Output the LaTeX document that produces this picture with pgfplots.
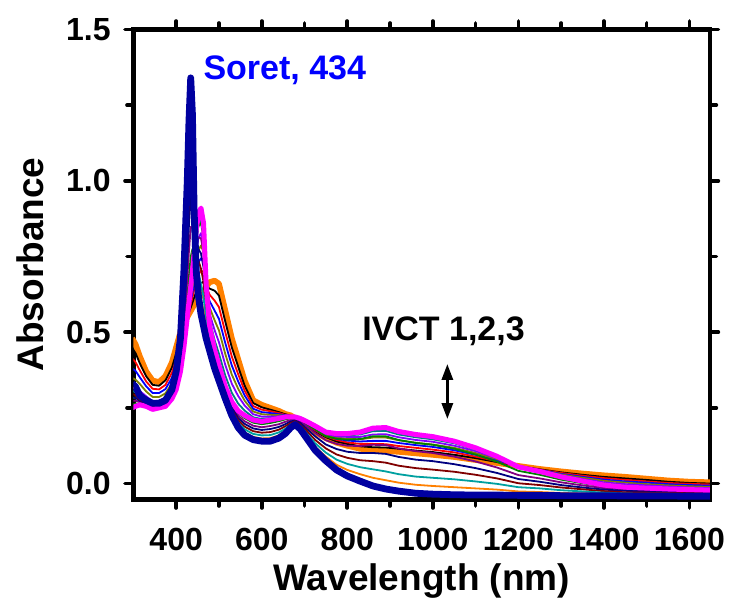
\documentclass[border=0pt]{standalone}
\usepackage{fontspec}
\setmainfont{Liberation Sans}
\usepackage{pgfplots}
\usepackage{pgfplotstable}
\pgfplotsset{compat=1.18}
\usetikzlibrary{arrows.meta}

\definecolor{cOrange}{RGB}{255,128,0}
\definecolor{cPink}{RGB}{255,0,255}
\definecolor{cNavy}{RGB}{0,0,160}
\definecolor{cOlive}{RGB}{128,128,0}
\definecolor{cViolet}{RGB}{128,0,255}
\definecolor{cCyan}{RGB}{0,128,128}
\definecolor{cGreen}{RGB}{0,128,0}
\definecolor{cPurple}{RGB}{128,0,128}
\definecolor{cDkBlue}{RGB}{0,0,128}
\definecolor{cWine}{RGB}{128,0,0}
\definecolor{cTeal}{RGB}{0,160,160}

% x = wavelength (nm); O = start (orange), a1..a6 = first set, P = pink,
% b1..b6 = second set, B = final (navy)
\pgfplotstableread{
x O a1 a2 a3 a4 a5 a6 P b1 b2 b3 b4 b5 b6 B
297 0.48 0.447 0.414 0.381 0.349 0.316 0.283 0.25 0.261 0.273 0.284 0.296 0.307 0.319 0.33
305 0.46 0.431 0.401 0.372 0.343 0.314 0.284 0.255 0.264 0.274 0.283 0.292 0.301 0.311 0.32
315 0.42 0.397 0.374 0.351 0.329 0.306 0.283 0.26 0.264 0.269 0.273 0.277 0.281 0.286 0.29
330 0.37 0.354 0.337 0.321 0.304 0.288 0.271 0.255 0.258 0.261 0.264 0.266 0.269 0.272 0.275
345 0.34 0.326 0.313 0.299 0.286 0.272 0.259 0.245 0.248 0.251 0.254 0.256 0.259 0.262 0.265
360 0.335 0.323 0.311 0.299 0.286 0.274 0.262 0.25 0.252 0.254 0.256 0.259 0.261 0.263 0.265
375 0.355 0.341 0.326 0.312 0.298 0.284 0.269 0.255 0.258 0.261 0.264 0.266 0.269 0.272 0.275
390 0.40 0.383 0.366 0.349 0.331 0.314 0.297 0.28 0.284 0.289 0.293 0.297 0.301 0.306 0.31
400 0.45 0.43 0.41 0.39 0.37 0.35 0.33 0.31 0.319 0.327 0.336 0.344 0.353 0.361 0.37
410 0.50 0.481 0.463 0.444 0.426 0.407 0.389 0.37 0.386 0.401 0.417 0.433 0.449 0.464 0.48
418 0.53 0.519 0.507 0.496 0.484 0.473 0.461 0.45 0.486 0.521 0.557 0.593 0.629 0.664 0.70
426 0.55 0.551 0.549 0.552 0.548 0.551 0.55 0.55 0.614 0.679 0.743 0.807 0.871 0.936 1.00
430 0.56 0.566 0.571 0.577 0.583 0.589 0.594 0.60 0.686 0.771 0.857 0.943 1.029 1.114 1.20
434 0.57 0.581 0.593 0.604 0.616 0.627 0.639 0.65 0.749 0.847 0.946 1.044 1.143 1.241 1.34
438 0.58 0.597 0.614 0.631 0.649 0.666 0.683 0.70 0.774 0.849 0.923 0.997 1.071 1.146 1.22
442 0.59 0.614 0.639 0.663 0.687 0.711 0.736 0.76 0.78 0.80 0.82 0.84 0.86 0.88 0.90
447 0.60 0.634 0.669 0.703 0.737 0.771 0.806 0.84 0.82 0.80 0.78 0.76 0.74 0.72 0.70
452 0.61 0.65 0.69 0.73 0.77 0.81 0.85 0.89 0.851 0.813 0.774 0.736 0.697 0.659 0.62
458 0.62 0.661 0.703 0.744 0.786 0.827 0.869 0.91 0.86 0.81 0.76 0.71 0.66 0.61 0.56
464 0.635 0.667 0.699 0.731 0.764 0.796 0.828 0.86 0.811 0.763 0.714 0.666 0.617 0.569 0.52
470 0.65 0.651 0.653 0.654 0.656 0.657 0.659 0.66 0.634 0.609 0.583 0.557 0.531 0.506 0.48
478 0.665 0.644 0.624 0.603 0.582 0.562 0.541 0.52 0.509 0.497 0.486 0.474 0.463 0.451 0.44
490 0.67 0.637 0.604 0.571 0.539 0.506 0.473 0.44 0.431 0.423 0.414 0.406 0.397 0.389 0.38
500 0.66 0.621 0.583 0.544 0.506 0.467 0.429 0.39 0.383 0.376 0.369 0.361 0.354 0.347 0.34
515 0.57 0.534 0.499 0.463 0.427 0.391 0.356 0.32 0.314 0.309 0.303 0.297 0.291 0.286 0.28
530 0.48 0.45 0.42 0.39 0.36 0.33 0.30 0.27 0.264 0.257 0.251 0.244 0.238 0.231 0.225
545 0.41 0.386 0.361 0.337 0.313 0.289 0.264 0.24 0.232 0.224 0.216 0.209 0.201 0.193 0.185
560 0.34 0.324 0.307 0.291 0.274 0.258 0.241 0.225 0.216 0.206 0.197 0.188 0.179 0.169 0.16
580 0.275 0.266 0.256 0.247 0.238 0.229 0.219 0.21 0.201 0.191 0.182 0.173 0.164 0.154 0.145
600 0.26 0.252 0.244 0.236 0.229 0.221 0.213 0.205 0.196 0.186 0.177 0.168 0.159 0.149 0.14
620 0.25 0.244 0.239 0.233 0.227 0.221 0.216 0.21 0.20 0.19 0.18 0.17 0.16 0.15 0.14
640 0.24 0.236 0.233 0.229 0.226 0.222 0.219 0.215 0.206 0.196 0.187 0.178 0.169 0.159 0.15
655 0.23 0.229 0.227 0.226 0.224 0.223 0.221 0.22 0.212 0.204 0.196 0.189 0.181 0.173 0.165
668 0.225 0.224 0.224 0.223 0.222 0.221 0.221 0.22 0.215 0.21 0.205 0.20 0.195 0.19 0.185
678 0.215 0.216 0.216 0.217 0.218 0.219 0.219 0.22 0.216 0.213 0.209 0.206 0.202 0.199 0.195
690 0.205 0.206 0.208 0.209 0.211 0.212 0.214 0.215 0.21 0.205 0.20 0.195 0.19 0.185 0.18
705 0.19 0.192 0.194 0.196 0.199 0.201 0.203 0.205 0.197 0.189 0.181 0.174 0.166 0.158 0.15
725 0.17 0.173 0.176 0.179 0.181 0.184 0.187 0.19 0.179 0.167 0.156 0.144 0.133 0.121 0.11
750 0.15 0.153 0.156 0.159 0.161 0.164 0.167 0.17 0.156 0.143 0.129 0.116 0.102 0.089 0.075
775 0.135 0.139 0.144 0.148 0.152 0.156 0.161 0.165 0.148 0.131 0.114 0.096 0.079 0.062 0.045
800 0.125 0.131 0.136 0.142 0.148 0.154 0.159 0.165 0.145 0.125 0.105 0.085 0.065 0.045 0.025
830 0.115 0.123 0.131 0.139 0.146 0.154 0.162 0.17 0.147 0.124 0.101 0.077 0.054 0.031 0.008
860 0.11 0.12 0.131 0.141 0.152 0.162 0.173 0.183 0.156 0.128 0.101 0.074 0.047 0.019 -0.008
890 0.108 0.119 0.13 0.141 0.152 0.163 0.174 0.185 0.156 0.127 0.098 0.069 0.04 0.011 -0.018
920 0.105 0.115 0.124 0.134 0.143 0.153 0.162 0.172 0.144 0.116 0.088 0.059 0.031 0.003 -0.025
960 0.10 0.109 0.118 0.127 0.135 0.144 0.153 0.162 0.134 0.107 0.079 0.051 0.023 -0.004 -0.032
1000 0.095 0.104 0.112 0.121 0.129 0.138 0.146 0.155 0.128 0.101 0.074 0.046 0.019 -0.008 -0.035
1050 0.088 0.095 0.103 0.11 0.118 0.125 0.133 0.14 0.115 0.089 0.064 0.039 0.014 -0.012 -0.037
1100 0.078 0.084 0.089 0.095 0.101 0.107 0.112 0.118 0.096 0.073 0.051 0.029 0.007 -0.016 -0.038
1150 0.068 0.071 0.074 0.077 0.081 0.084 0.087 0.09 0.072 0.053 0.035 0.017 -0.001 -0.02 -0.038
1200 0.058 0.058 0.057 0.057 0.056 0.056 0.055 0.055 0.042 0.028 0.015 0.001 -0.012 -0.026 -0.039
1250 0.048 0.047 0.046 0.045 0.043 0.042 0.041 0.04 0.029 0.017 0.006 -0.005 -0.016 -0.028 -0.039
1300 0.04 0.037 0.035 0.032 0.03 0.027 0.025 0.022 0.013 0.004 -0.005 -0.013 -0.022 -0.031 -0.04
1350 0.033 0.029 0.026 0.022 0.019 0.015 0.012 0.008 0.001 -0.006 -0.013 -0.019 -0.026 -0.033 -0.04
1400 0.027 0.022 0.018 0.013 0.009 0.004 0.0 -0.005 -0.01 -0.015 -0.02 -0.025 -0.03 -0.035 -0.04
1450 0.022 0.017 0.012 0.007 0.003 -0.002 -0.007 -0.012 -0.016 -0.02 -0.024 -0.029 -0.033 -0.037 -0.041
1500 0.016 0.012 0.007 0.003 -0.002 -0.006 -0.011 -0.015 -0.019 -0.022 -0.026 -0.03 -0.034 -0.037 -0.041
1550 0.01 0.006 0.002 -0.002 -0.006 -0.01 -0.014 -0.018 -0.021 -0.025 -0.028 -0.031 -0.034 -0.038 -0.041
1600 0.006 0.002 -0.001 -0.005 -0.009 -0.013 -0.016 -0.02 -0.023 -0.026 -0.029 -0.032 -0.036 -0.039 -0.042
1650 0.004 0.0 -0.003 -0.007 -0.011 -0.015 -0.018 -0.022 -0.025 -0.028 -0.031 -0.033 -0.036 -0.039 -0.042
}\spectra

\begin{document}
\begin{tikzpicture}
\begin{axis}[
  scale only axis, width=288.3pt, height=235.1pt,
  xmin=300, xmax=1648, ymin=-0.053, ymax=1.5,
  xtick={400,600,...,1600}, minor x tick num=1,
  ytick={0,0.5,1,1.5}, minor y tick num=1,
  /pgf/number format/1000 sep={},
  /pgf/number format/assume math mode=true,
  tick align=outside, major tick length=4.2pt, minor tick length=3.2pt,
  every tick/.style={black, line width=1.8pt, line cap=round},
  axis line style={line width=2.3pt},
  tick label style={font=\fontsize{16}{16}\selectfont\bfseries, inner sep=0pt},
  xticklabel style={anchor=base, yshift=-21.3pt},
  yticklabel style={anchor=east, xshift=-7pt,
    /pgf/number format/.cd, fixed, fixed zerofill, precision=1},
  every axis plot/.append style={line join=round, no markers},
  thin line/.style={line width=0.9pt},
]
\addplot[cOrange, line width=2.9pt] table[x=x, y=O] {\spectra};
\addplot[black, thin line] table[x=x, y=a1] {\spectra};
\addplot[red, thin line] table[x=x, y=a2] {\spectra};
\addplot[blue, thin line] table[x=x, y=a3] {\spectra};
\addplot[cOlive, thin line] table[x=x, y=a4] {\spectra};
\addplot[cViolet, thin line] table[x=x, y=a5] {\spectra};
\addplot[cCyan, thin line] table[x=x, y=a6] {\spectra};
\addplot[cGreen, thin line] table[x=x, y=b1] {\spectra};
\addplot[cPurple, thin line] table[x=x, y=b2] {\spectra};
\addplot[cDkBlue, thin line] table[x=x, y=b3] {\spectra};
\addplot[cWine, thin line] table[x=x, y=b4] {\spectra};
\addplot[cTeal, thin line] table[x=x, y=b5] {\spectra};
\addplot[cOrange, thin line] table[x=x, y=b6] {\spectra};
\addplot[cPink, line width=2.5pt] table[x=x, y=P] {\spectra};
\addplot[cNavy, line width=3.4pt] table[x=x, y=B] {\spectra};

\node[anchor=west, text=blue, font=\fontsize{17}{17}\selectfont\bfseries, inner sep=0pt]
  at (axis cs:463,1.365) {Soret, 434};
\node[font=\fontsize{17}{17}\selectfont\bfseries, inner sep=0pt]
  at (axis cs:1025,0.504) {IVCT 1,2,3};
\draw[line width=1.5pt, {Triangle[width=5.5pt,length=8pt]}-{Triangle[width=5.5pt,length=8pt]}]
  (axis cs:1034,0.395) -- (axis cs:1034,0.213);

\coordinate (sw) at (rel axis cs:0,0);
\coordinate (yl) at (rel axis cs:0,0.5);
\coordinate (xl) at (rel axis cs:0.5,0);
\end{axis}
\node[rotate=90, font=\fontsize{18.5}{18.5}\selectfont\bfseries] at ([xshift=-51.7pt]yl) {Absorbance};
\node[font=\fontsize{18.5}{18.5}\selectfont\bfseries] at ([yshift=-40.5pt]xl) {Wavelength (nm)};
\pgfresetboundingbox
\path (sw) ++(-66.7pt,-53.7pt) rectangle ++(368pt,303.5pt);
\end{tikzpicture}
\end{document}
